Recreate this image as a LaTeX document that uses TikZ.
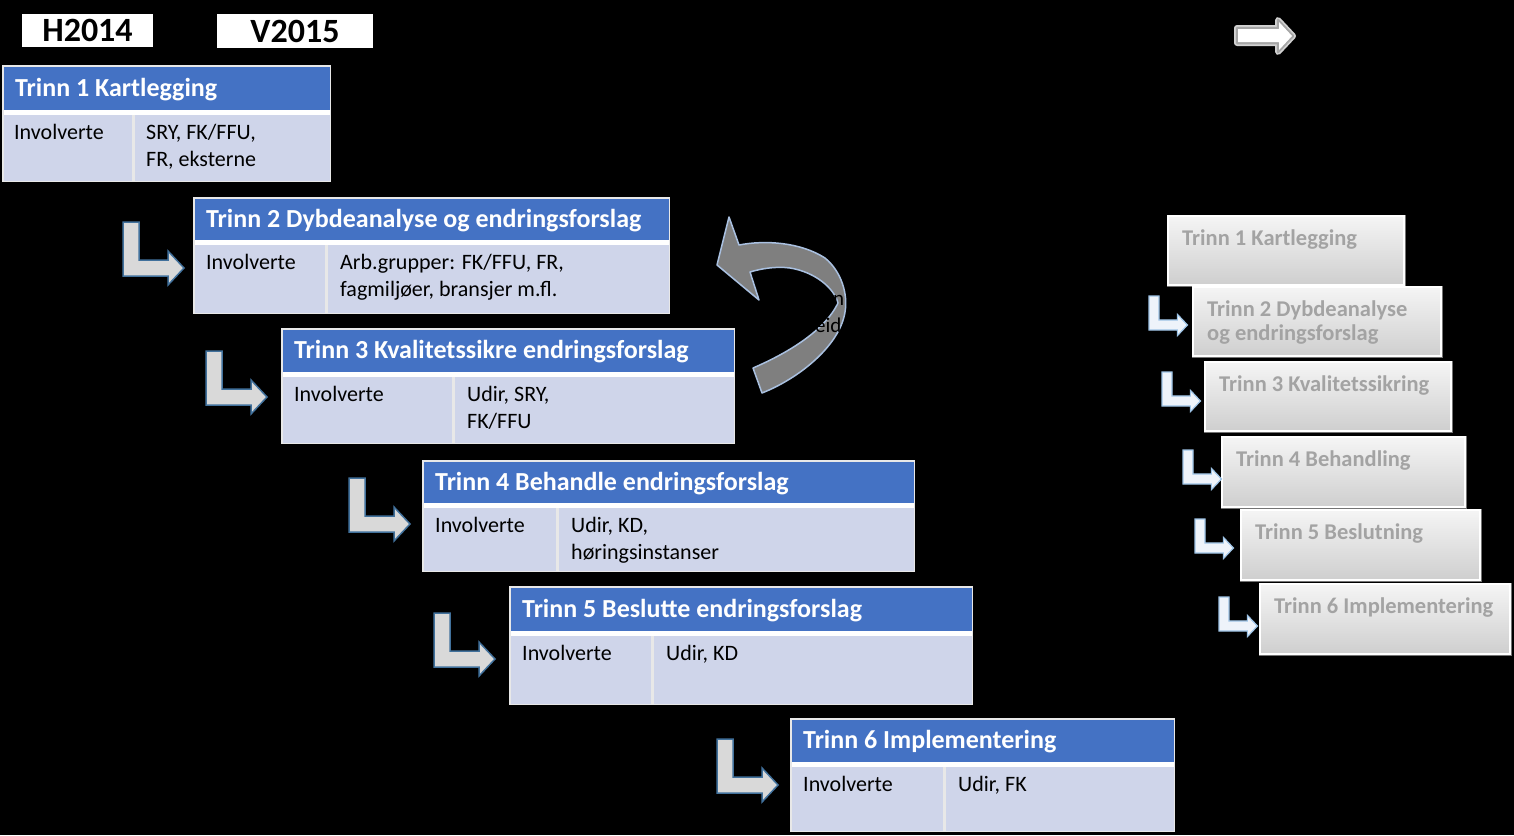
\documentclass[tikz,border=0pt]{standalone}
\usepackage{fontspec}
\setmainfont{Carlito}
\definecolor{hdrblue}{HTML}{4472C4}
\definecolor{cellfill}{HTML}{CFD5EA}
\definecolor{tabedge}{HTML}{E8E8E8}
\definecolor{arrfill}{HTML}{D9D9D9}
\definecolor{arredge}{HTML}{41719C}
\definecolor{sarrfill}{HTML}{EEF3FA}
\definecolor{sarredge}{HTML}{9DC3E6}
\definecolor{curvefill}{HTML}{7F7F7F}
\definecolor{curveedge}{HTML}{A9C0E0}
\definecolor{rtext}{HTML}{A3A3A3}
\newcommand\tabbg[7]{%
  \fill[tabedge] (#1,#2) rectangle (#3,#6);
  \fill[white] (#1+1.5,#4) rectangle (#3-1.5,#5);
  \fill[hdrblue] (#1+1.5,#2+1.5) rectangle (#3-1.5,#4);
  \fill[cellfill] (#1+1.5,#5) rectangle (#7-1.5,#6-1.5);
  \fill[cellfill] (#7+1.5,#5) rectangle (#3-1.5,#6-1.5);}
\tikzset{
  hdrtxt/.style={anchor=base west, inner sep=0pt, text=white, font=\fontsize{26}{30}\selectfont\bfseries},
  celltxt/.style={anchor=base west, inner sep=0pt, text=black, font=\fontsize{22}{27}\selectfont},
  yearbox/.style={fill=white, text=black, inner sep=0pt, font=\fontsize{34}{38}\selectfont\bfseries},
  rbox/.style={top color=white!96!black, bottom color=black!19, draw=white, line width=2pt},
  rboxout/.style={draw=black!55, line width=0.8pt},
  rtxt/.style={anchor=base west, inner sep=0pt, text=rtext, font=\fontsize{22.5}{26}\selectfont\bfseries},
  bigarrow/.style={fill=arrfill, draw=arredge, line width=1.5pt},
  smallarrow/.style={fill=sarrfill, draw=sarredge, line width=1.2pt},
  larrow/.pic={\path[pic actions] (0,0) -- (16,0) -- (16,38) -- (45,38) -- (45,29)
     -- (61,46) -- (45,63) -- (45,54) -- (0,54) -- cycle;}
}
\begin{document}
\begin{tikzpicture}[x=1pt,y=-1pt]
\useasboundingbox (0,0) rectangle (1514,835);
\fill[black] (0,0) rectangle (1514,835);

% year labels
\node[yearbox, minimum width=131pt, minimum height=33pt] (h2014) at (87.5,30.5) {H2014};
\node[yearbox, minimum width=156pt, minimum height=34pt] (v2015) at (295,31) {V2015};

% top white arrow with glow
\path[draw=gray!35, line width=6pt, line join=round] (1237,28) -- (1278,28) -- (1278,20) -- (1293,36)
  -- (1278,52) -- (1278,43) -- (1237,43) -- cycle;
\path[draw=gray!70, line width=2.5pt, fill=white, line join=round] (1237,28) -- (1278,28) -- (1278,20) -- (1293,36)
  -- (1278,52) -- (1278,43) -- (1237,43) -- cycle;
\fill[white] (1238,29) -- (1279,29) -- (1279,22) -- (1292,36)
  -- (1279,50) -- (1279,42) -- (1238,42) -- cycle;

% tables
\tabbg{2}{65}{331}{110}{115}{182}{133}
\node[hdrtxt] (t1h) at (15,96) {Trinn 1 Kartlegging};
\node[celltxt] (t1a) at (14,139) {Involverte};
\node[celltxt] (t1b) at (146,139) {SRY, FK/FFU,};
\node[celltxt] (t1c) at (146,166) {FR, eksterne};

\tabbg{193}{197}{670}{240}{245}{314}{326}
\node[hdrtxt] (t2h) at (206,227) {Trinn 2 Dybdeanalyse og endringsforslag};
\node[celltxt] (t2a) at (206,269) {Involverte};
\node[celltxt] (t2b) at (340,269) {Arb.grupper: FK/FFU, FR,};
\node[celltxt] (t2c) at (340,296) {fagmiljøer, bransjer m.fl.};

\tabbg{281}{328}{735}{372}{377}{444}{453}
\node[hdrtxt] (t3h) at (294,358.5) {Trinn 3 Kvalitetssikre endringsforslag};
\node[celltxt] (t3a) at (294,401) {Involverte};
\node[celltxt] (t3b) at (467,401) {Udir, SRY,};
\node[celltxt] (t3c) at (467,428) {FK/FFU};

\tabbg{422}{460}{915}{503}{508}{572}{557}
\node[hdrtxt] (t4h) at (435,490) {Trinn 4 Behandle endringsforslag};
\node[celltxt] (t4a) at (435,532) {Involverte};
\node[celltxt] (t4b) at (571,532) {Udir, KD,};
\node[celltxt] (t4c) at (571,559) {høringsinstanser};

\tabbg{509}{586}{973}{631}{636}{705}{652}
\node[hdrtxt] (t5h) at (522,617) {Trinn 5 Beslutte endringsforslag};
\node[celltxt] (t5a) at (522,660) {Involverte};
\node[celltxt] (t5b) at (666,660) {Udir, KD};

\tabbg{790}{718}{1175}{762}{767}{832}{944}
\node[hdrtxt] (t6h) at (803,748.5) {Trinn 6 Implementering};
\node[celltxt] (t6a) at (803,791) {Involverte};
\node[celltxt] (t6b) at (958,791) {Udir, FK};

% big L arrows
\pic[bigarrow] at (123,222) {larrow};
\pic[bigarrow] at (206,351) {larrow};
\pic[bigarrow] at (349,478) {larrow};
\pic[bigarrow] at (434,613) {larrow};
\pic[bigarrow] at (717,739) {larrow};

% curved arrow
\filldraw[fill=curvefill, draw=curveedge, line width=1.5pt, line join=round]
  (729,217) -- (739,245)
  .. controls (765,240) and (800,242) .. (825,258)
  .. controls (842,272) and (848,295) .. (845,312)
  .. controls (840,345) and (800,378) .. (762,393)
  -- (753,368)
  .. controls (790,352) and (825,330) .. (838,303)
  .. controls (834,288) and (815,272) .. (790,268)
  .. controls (775,266) and (760,269) .. (750,272)
  -- (759,300) -- (717,265) -- cycle;
\node[celltxt, font=\fontsize{21}{24}\selectfont] (cn) at (833,305) {n};
\node[celltxt, font=\fontsize{21}{24}\selectfont] (ceid) at (815,332) {eid};

% right-hand summary boxes
\draw[rboxout] (1167,215) rectangle (1405,286);
\draw[rbox] (1168,216) rectangle (1404,285);
\node[rtxt] (r1) at (1182,245) {Trinn 1 Kartlegging};
\draw[rboxout] (1192,286) rectangle (1442,357);
\draw[rbox] (1193,287) rectangle (1441,356);
\node[rtxt] (r2a) at (1207,316) {Trinn 2 Dybdeanalyse};
\node[rtxt] (r2b) at (1207,340) {og endringsforslag};
\draw[rboxout] (1204,361) rectangle (1452,432);
\draw[rbox] (1205,362) rectangle (1451,431);
\node[rtxt] (r3) at (1219,391) {Trinn 3 Kvalitetssikring};
\draw[rboxout] (1221,436) rectangle (1466,508);
\draw[rbox] (1222,437) rectangle (1465,507);
\node[rtxt] (r4) at (1236,466) {Trinn 4 Behandling};
\draw[rboxout] (1240,509) rectangle (1481,581);
\draw[rbox] (1241,510) rectangle (1480,580);
\node[rtxt] (r5) at (1255,539) {Trinn 5 Beslutning};
\draw[rboxout] (1259,583) rectangle (1511,655);
\draw[rbox] (1260,584) rectangle (1510,654);
\node[rtxt] (r6) at (1274,613) {Trinn 6 Implementering};

% small L arrows
\pic[smallarrow, scale=0.63] at (1149,296) {larrow};
\pic[smallarrow, scale=0.63] at (1162,372) {larrow};
\pic[smallarrow, scale=0.63] at (1183,450) {larrow};
\pic[smallarrow, scale=0.63] at (1195,519) {larrow};
\pic[smallarrow, scale=0.63] at (1219,597) {larrow};
\end{tikzpicture}
\end{document}
